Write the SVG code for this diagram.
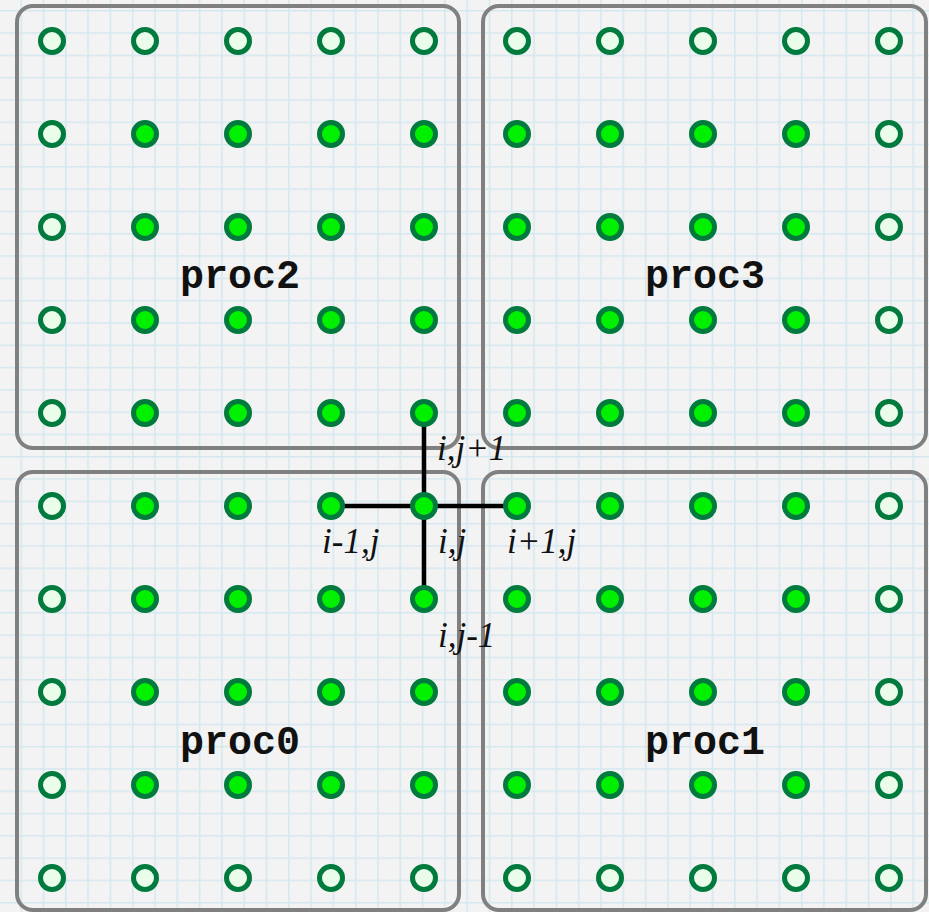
<svg xmlns="http://www.w3.org/2000/svg" width="929" height="912" viewBox="0 0 929 912">
  <defs>
    <pattern id="grid" x="20.4" y="10" width="22.3" height="22.3" patternUnits="userSpaceOnUse">
      <path d="M0.75 0 V22.3 M0 0.75 H22.3" fill="none" stroke="#d4e8f0" stroke-width="1.5"/>
    </pattern>
  </defs>
  <style>
    .box { fill: none; stroke: #808080; stroke-width: 4; }
    .on { fill: #00f000; stroke: #007a3d; stroke-width: 5; }
    .off { fill: #eafcea; stroke: #007a3d; stroke-width: 5; }
    .stencil { stroke: #000; stroke-width: 4.5; fill: none; }
    .lbl { font-family: "Liberation Serif", "Times New Roman", serif; font-style: italic; font-size: 35px; fill: #111; }
    .proc { font-family: "Liberation Mono", "Courier New", monospace; font-weight: bold; font-size: 40px; fill: #111; }
  </style>
  <rect width="929" height="912" fill="#f3f3f3"/>
  <rect width="929" height="912" fill="url(#grid)"/>

  <g id="proc2">
    <rect class="box" x="17" y="6" width="442" height="442" rx="16"/>
    <text class="proc" x="180" y="288">proc2</text>
  </g>
  <g id="proc3">
    <rect class="box" x="483" y="6" width="443" height="442" rx="16"/>
    <text class="proc" x="645" y="288">proc3</text>
  </g>
  <g id="proc0">
    <rect class="box" x="17" y="472" width="442" height="438" rx="16"/>
    <text class="proc" x="180" y="754">proc0</text>
  </g>
  <g id="proc1">
    <rect class="box" x="483" y="472" width="443" height="438" rx="16"/>
    <text class="proc" x="645" y="754">proc1</text>
  </g>

  <g id="connectors">
    <path class="stencil" d="M331 506 H517 M424 413 V599"/>
  </g>

  <g id="points">
    <!-- row 0 -->
    <circle class="off" cx="52" cy="41" r="11.5"/><circle class="off" cx="145" cy="41" r="11.5"/><circle class="off" cx="238" cy="41" r="11.5"/><circle class="off" cx="331" cy="41" r="11.5"/><circle class="off" cx="424" cy="41" r="11.5"/><circle class="off" cx="517" cy="41" r="11.5"/><circle class="off" cx="610" cy="41" r="11.5"/><circle class="off" cx="703" cy="41" r="11.5"/><circle class="off" cx="796" cy="41" r="11.5"/><circle class="off" cx="889" cy="41" r="11.5"/>
    <!-- row 1 -->
    <circle class="off" cx="52" cy="134" r="11.5"/><circle class="on" cx="145" cy="134" r="11.5"/><circle class="on" cx="238" cy="134" r="11.5"/><circle class="on" cx="331" cy="134" r="11.5"/><circle class="on" cx="424" cy="134" r="11.5"/><circle class="on" cx="517" cy="134" r="11.5"/><circle class="on" cx="610" cy="134" r="11.5"/><circle class="on" cx="703" cy="134" r="11.5"/><circle class="on" cx="796" cy="134" r="11.5"/><circle class="off" cx="889" cy="134" r="11.5"/>
    <!-- row 2 -->
    <circle class="off" cx="52" cy="227" r="11.5"/><circle class="on" cx="145" cy="227" r="11.5"/><circle class="on" cx="238" cy="227" r="11.5"/><circle class="on" cx="331" cy="227" r="11.5"/><circle class="on" cx="424" cy="227" r="11.5"/><circle class="on" cx="517" cy="227" r="11.5"/><circle class="on" cx="610" cy="227" r="11.5"/><circle class="on" cx="703" cy="227" r="11.5"/><circle class="on" cx="796" cy="227" r="11.5"/><circle class="off" cx="889" cy="227" r="11.5"/>
    <!-- row 3 -->
    <circle class="off" cx="52" cy="320" r="11.5"/><circle class="on" cx="145" cy="320" r="11.5"/><circle class="on" cx="238" cy="320" r="11.5"/><circle class="on" cx="331" cy="320" r="11.5"/><circle class="on" cx="424" cy="320" r="11.5"/><circle class="on" cx="517" cy="320" r="11.5"/><circle class="on" cx="610" cy="320" r="11.5"/><circle class="on" cx="703" cy="320" r="11.5"/><circle class="on" cx="796" cy="320" r="11.5"/><circle class="off" cx="889" cy="320" r="11.5"/>
    <!-- row 4 -->
    <circle class="off" cx="52" cy="413" r="11.5"/><circle class="on" cx="145" cy="413" r="11.5"/><circle class="on" cx="238" cy="413" r="11.5"/><circle class="on" cx="331" cy="413" r="11.5"/><circle class="on" cx="424" cy="413" r="11.5"/><circle class="on" cx="517" cy="413" r="11.5"/><circle class="on" cx="610" cy="413" r="11.5"/><circle class="on" cx="703" cy="413" r="11.5"/><circle class="on" cx="796" cy="413" r="11.5"/><circle class="off" cx="889" cy="413" r="11.5"/>
    <!-- row 5 -->
    <circle class="off" cx="52" cy="506" r="11.5"/><circle class="on" cx="145" cy="506" r="11.5"/><circle class="on" cx="238" cy="506" r="11.5"/><circle class="on" cx="331" cy="506" r="11.5"/><circle class="on" cx="424" cy="506" r="11.5"/><circle class="on" cx="517" cy="506" r="11.5"/><circle class="on" cx="610" cy="506" r="11.5"/><circle class="on" cx="703" cy="506" r="11.5"/><circle class="on" cx="796" cy="506" r="11.5"/><circle class="off" cx="889" cy="506" r="11.5"/>
    <!-- row 6 -->
    <circle class="off" cx="52" cy="599" r="11.5"/><circle class="on" cx="145" cy="599" r="11.5"/><circle class="on" cx="238" cy="599" r="11.5"/><circle class="on" cx="331" cy="599" r="11.5"/><circle class="on" cx="424" cy="599" r="11.5"/><circle class="on" cx="517" cy="599" r="11.5"/><circle class="on" cx="610" cy="599" r="11.5"/><circle class="on" cx="703" cy="599" r="11.5"/><circle class="on" cx="796" cy="599" r="11.5"/><circle class="off" cx="889" cy="599" r="11.5"/>
    <!-- row 7 -->
    <circle class="off" cx="52" cy="692" r="11.5"/><circle class="on" cx="145" cy="692" r="11.5"/><circle class="on" cx="238" cy="692" r="11.5"/><circle class="on" cx="331" cy="692" r="11.5"/><circle class="on" cx="424" cy="692" r="11.5"/><circle class="on" cx="517" cy="692" r="11.5"/><circle class="on" cx="610" cy="692" r="11.5"/><circle class="on" cx="703" cy="692" r="11.5"/><circle class="on" cx="796" cy="692" r="11.5"/><circle class="off" cx="889" cy="692" r="11.5"/>
    <!-- row 8 -->
    <circle class="off" cx="52" cy="785" r="11.5"/><circle class="on" cx="145" cy="785" r="11.5"/><circle class="on" cx="238" cy="785" r="11.5"/><circle class="on" cx="331" cy="785" r="11.5"/><circle class="on" cx="424" cy="785" r="11.5"/><circle class="on" cx="517" cy="785" r="11.5"/><circle class="on" cx="610" cy="785" r="11.5"/><circle class="on" cx="703" cy="785" r="11.5"/><circle class="on" cx="796" cy="785" r="11.5"/><circle class="off" cx="889" cy="785" r="11.5"/>
    <!-- row 9 -->
    <circle class="off" cx="52" cy="878" r="11.5"/><circle class="off" cx="145" cy="878" r="11.5"/><circle class="off" cx="238" cy="878" r="11.5"/><circle class="off" cx="331" cy="878" r="11.5"/><circle class="off" cx="424" cy="878" r="11.5"/><circle class="off" cx="517" cy="878" r="11.5"/><circle class="off" cx="610" cy="878" r="11.5"/><circle class="off" cx="703" cy="878" r="11.5"/><circle class="off" cx="796" cy="878" r="11.5"/><circle class="off" cx="889" cy="878" r="11.5"/>
  </g>

  <g id="labels">
    <text class="lbl" x="437" y="460">i,j+1</text>
    <text class="lbl" x="322" y="553">i-1,j</text>
    <text class="lbl" x="438" y="553">i,j</text>
    <text class="lbl" x="507" y="553">i+1,j</text>
    <text class="lbl" x="438" y="647">i,j-1</text>
  </g>
</svg>
